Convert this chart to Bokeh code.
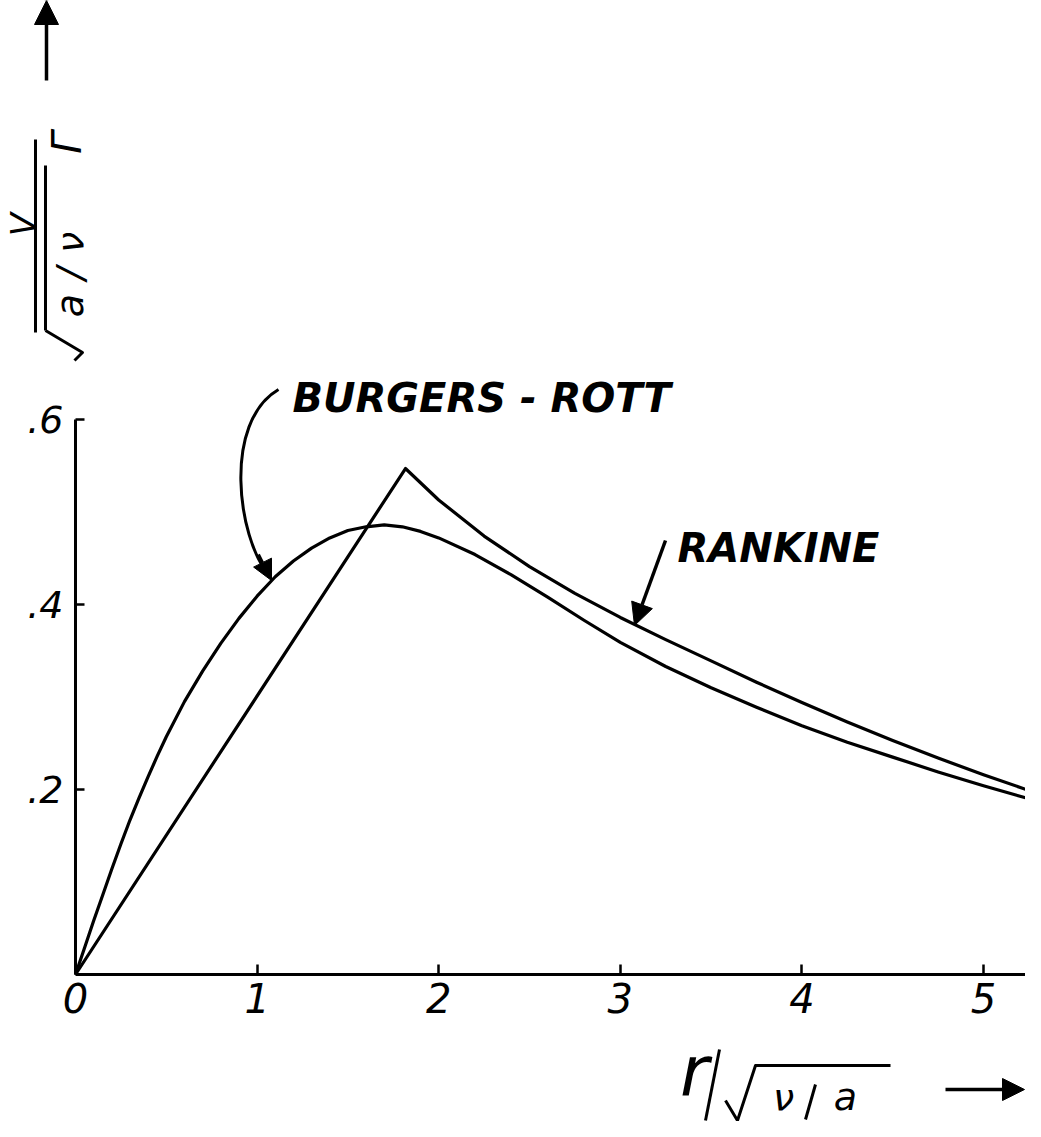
import math
from bokeh.plotting import figure
from bokeh.models import LinearAxis, Range1d, FixedTicker, Label, Arrow, NormalHead
from bokeh.embed import file_html
from bokeh.resources import INLINE

# ---------------- data ----------------
burgers_x = [0.0, 0.05, 0.1, 0.15, 0.2, 0.25, 0.3, 0.35, 0.4, 0.45, 0.5, 0.6, 0.7, 0.8, 0.9,
             1.0, 1.1, 1.2, 1.3, 1.4, 1.5, 1.6, 1.7, 1.8, 1.9, 2.0, 2.2, 2.4, 2.6, 2.8,
             3.0, 3.25, 3.5, 3.75, 4.0, 4.25, 4.5, 4.75, 5.0, 5.25]
burgers_v = [0.0, 0.029, 0.058, 0.086, 0.114, 0.141, 0.167, 0.191, 0.214, 0.236, 0.257, 0.295,
             0.328, 0.358, 0.385, 0.409, 0.430, 0.447, 0.461, 0.472, 0.480, 0.484, 0.486,
             0.484, 0.479, 0.472, 0.454, 0.432, 0.408, 0.383, 0.359, 0.333, 0.310, 0.289,
             0.269, 0.251, 0.235, 0.219, 0.204, 0.190]

rankine_x = [0.0, 1.817, 2.0, 2.25, 2.5, 2.75, 3.0, 3.25, 3.5, 3.75, 4.0, 4.25, 4.5, 4.75,
             5.0, 5.25]
rankine_v = [0.0, 0.547, 0.513, 0.474, 0.441, 0.412, 0.386, 0.362, 0.339, 0.316, 0.294,
             0.273, 0.253, 0.234, 0.216, 0.199]

x_ticks = [0, 1, 2, 3, 4, 5]
x_tick_labels = ["0", "1", "2", "3", "4", "5"]
y_ticks = [0.2, 0.4, 0.6]
y_tick_labels = [".2", ".4", ".6"]

# ---------------- layout ----------------
W, H = 1025, 1121
OX, OY = 75, 974           # origin in figure pixels (from left / from top)
PX_X, PX_Y = 181.6, 925.0  # pixels per data unit
FONT = "DejaVu Sans"


def dx(ax):  # page pixel -> data x
    return (ax - 8 - OX) / PX_X


def dy(ay):  # page pixel -> data y
    return (OY - (ay - 8)) / PX_Y


p = figure(width=W, height=H,
           x_range=Range1d(-OX / PX_X, (W - OX) / PX_X),
           y_range=Range1d(-(H - OY) / PX_Y, OY / PX_Y),
           x_axis_location=None, y_axis_location=None,
           output_backend="svg", toolbar_location=None,
           min_border=0, outline_line_color=None,
           background_fill_color="white", border_fill_color="white")
p.grid.visible = False

xaxis = LinearAxis(fixed_location=0, bounds=(0, 5.3),
                   ticker=FixedTicker(ticks=x_ticks),
                   major_label_overrides={t: l for t, l in zip(x_ticks, x_tick_labels)})
yaxis = LinearAxis(fixed_location=0, bounds=(0, 0.6),
                   ticker=FixedTicker(ticks=y_ticks),
                   major_label_overrides={t: l for t, l in zip(y_ticks, y_tick_labels)})
for ax in (xaxis, yaxis):
    ax.axis_line_width = 3
    ax.axis_line_color = "black"
    ax.major_tick_line_width = 2.5
    ax.major_tick_line_color = "black"
    ax.major_tick_out = 0
    ax.minor_tick_line_color = None
    ax.major_label_text_font = FONT
    ax.major_label_text_font_style = "italic"
    ax.major_label_text_color = "black"
xaxis.major_tick_in = 10
xaxis.major_label_text_font_size = "40px"
xaxis.major_label_standoff = 8
yaxis.major_tick_in = 9
yaxis.major_label_text_font_size = "38px"
yaxis.major_label_standoff = 12
p.add_layout(xaxis, "below")
p.add_layout(yaxis, "left")

# curves
p.line(rankine_x, rankine_v, line_width=3.2, line_color="black", line_join="round")
p.line(burgers_x, burgers_v, line_width=3.2, line_color="black", line_join="round")

# curve labels
p.add_layout(Label(x=dx(300), y=dy(405), text="BURGERS - ROTT", text_font=FONT,
                   text_font_style="bold italic", text_font_size="40px",
                   text_align="left", text_baseline="alphabetic", text_color="black"))
p.add_layout(Label(x=dx(685), y=dy(555), text="RANKINE", text_font=FONT,
                   text_font_style="bold italic", text_font_size="40px",
                   text_align="left", text_baseline="alphabetic", text_color="black"))

# curved arrow to Burgers-Rott
p.bezier(x0=dx(286), y0=dy(397), x1=dx(276), y1=dy(582),
         cx0=dx(230), cy0=dy(430), cx1=dx(245), cy1=dy(545),
         line_width=3, line_color="black")
p.add_layout(Arrow(x_start=dx(266), y_start=dy(562), x_end=dx(279), y_end=dy(588),
                   line_width=3, line_color="black",
                   end=NormalHead(size=20, fill_color="black", line_color="black")))
# straight arrow to Rankine
p.add_layout(Arrow(x_start=dx(673), y_start=dy(548), x_end=dx(642), y_end=dy(633),
                   line_width=3.5, line_color="black",
                   end=NormalHead(size=22, fill_color="black", line_color="black")))

# axis direction arrows
p.add_layout(Arrow(x_start=dx(54), y_start=dy(88), x_end=dx(54), y_end=dy(8),
                   line_width=3.5, line_color="black",
                   end=NormalHead(size=24, fill_color="black", line_color="black")))
p.add_layout(Arrow(x_start=dx(953), y_start=dy(1097), x_end=dx(1032), y_end=dy(1097),
                   line_width=3.5, line_color="black",
                   end=NormalHead(size=22, fill_color="black", line_color="black")))

# ---- y axis title (rotated): V / ( sqrt(a/nu) Gamma ) ----
rot = math.pi / 2


def ylab(text, ax, ay, size):
    p.add_layout(Label(x=dx(ax), y=dy(ay), text=text, angle=rot, text_font=FONT,
                       text_font_style="italic", text_font_size=size,
                       text_align="center", text_baseline="middle", text_color="black"))


ylab("V", 30, 232, "34px")
p.segment(x0=dx(43), y0=dy(147), x1=dx(43), y1=dy(340), line_width=3, line_color="black")
p.segment(x0=dx(53), y0=dy(173), x1=dx(53), y1=dy(338), line_width=3, line_color="black")
p.line(x=[dx(53), dx(90), dx(82)], y=[dy(338), dy(360), dy(368)], line_width=3,
       line_color="black", line_join="round")
ylab("a", 77, 313, "38px")
ylab("/", 77, 281, "38px")
ylab("ν", 77, 250, "38px")
ylab("Γ", 74, 150, "40px")

# ---- x axis title: r / sqrt(nu/a) ----


def xlab(text, ax, ay, size):
    p.add_layout(Label(x=dx(ax), y=dy(ay), text=text, text_font=FONT,
                       text_font_style="italic", text_font_size=size,
                       text_align="center", text_baseline="middle", text_color="black"))


xlab("r", 702, 1078, "70px")
p.segment(x0=dx(727), y0=dy(1057), x1=dx(713), y1=dy(1128), line_width=3, line_color="black")
p.line(x=[dx(733), dx(745), dx(763), dx(898)], y=[dy(1108), dy(1128), dy(1073), dy(1073)],
       line_width=3, line_color="black", line_join="round")
xlab("ν", 791, 1104, "38px")
p.segment(x0=dx(823), y0=dy(1092), x1=dx(813), y1=dy(1127), line_width=3, line_color="black")
xlab("a", 853, 1104, "38px")

open("out.html", "w").write(file_html(p, INLINE))
